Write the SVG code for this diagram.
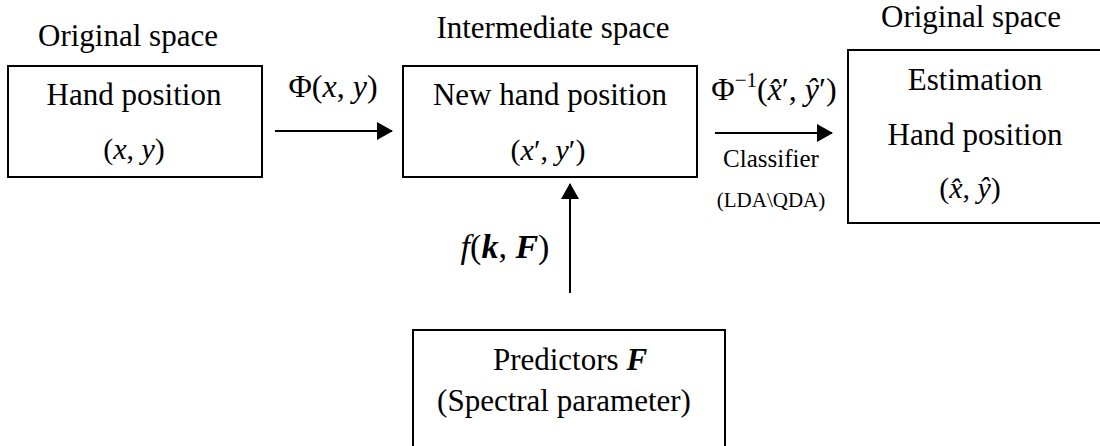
<svg xmlns="http://www.w3.org/2000/svg" width="1100" height="446" viewBox="0 0 1100 446">
<style>
.t{font-family:"Liberation Serif","Times New Roman",serif;font-size:31px;fill:#000;text-anchor:middle}
.m{font-family:"Liberation Serif","Times New Roman",serif;font-size:30px;fill:#000;text-anchor:middle}
.i{font-style:italic}
.b{font-style:italic;font-weight:bold}
.box{fill:#fff;stroke:#000;stroke-width:2}
.ln{stroke:#000;stroke-width:2;fill:none}
</style>
<defs>
<marker id="ah" markerWidth="16" markerHeight="18" refX="15" refY="9" orient="auto" markerUnits="userSpaceOnUse">
<path d="M0,0 L16,9 L0,18 Z" fill="#000"/>
</marker>
</defs>
<rect width="1100" height="446" fill="#fff"/>
<g id="node-hand">
<text class="t" x="128" y="46">Original space</text>
<rect class="box" x="8" y="66" width="254" height="111"/>
<text class="t" x="134" y="105">Hand position</text>
<text class="m" x="134" y="159">(<tspan class="i">x</tspan>, <tspan class="i">y</tspan>)</text>
</g>
<g id="node-new">
<text class="t" x="553" y="38">Intermediate space</text>
<rect class="box" x="403" y="66" width="294" height="111"/>
<text class="t" x="550" y="105">New hand position</text>
<text class="m" x="548" y="160">(<tspan class="i">x</tspan>′, <tspan class="i">y</tspan>′)</text>
</g>
<g id="node-est">
<text class="t" x="971" y="27">Original space</text>
<rect class="box" x="848" y="50" width="260" height="173"/>
<text class="t" x="975" y="90">Estimation</text>
<text class="t" x="975" y="145">Hand position</text>
<text class="m" x="970" y="198">(<tspan class="i">x̂</tspan>, <tspan class="i">ŷ</tspan>)</text>
</g>
<g id="node-pred">
<rect class="box" x="413" y="330" width="312" height="130"/>
<text class="t" x="570" y="370">Predictors <tspan class="b">F</tspan></text>
<text class="t" x="564" y="411">(Spectral parameter)</text>
</g>
<g id="connectors">
<line class="ln" x1="275" y1="131" x2="392" y2="131" marker-end="url(#ah)"/>
<line class="ln" x1="715" y1="133" x2="832" y2="133" marker-end="url(#ah)"/>
<line class="ln" x1="570" y1="293" x2="570" y2="184" marker-end="url(#ah)"/>
</g>
<g id="labels">
<text class="m" x="333" y="97" style="font-size:32px">Φ(<tspan class="i">x</tspan>, <tspan class="i">y</tspan>)</text>
<text class="m" x="774" y="100" style="font-size:32px">Φ<tspan font-size="21" dy="-13">−1</tspan><tspan dy="13">(</tspan><tspan class="i">x̂</tspan>′, <tspan class="i">ŷ</tspan>′)</text>
<text class="t" x="771" y="167" style="font-size:25px">Classifier</text>
<text class="t" x="771" y="207" style="font-size:21px">(LDA\QDA)</text>
<text class="m" x="505" y="258" style="font-size:34px"><tspan class="i">f</tspan>(<tspan class="b">k</tspan>, <tspan class="b">F</tspan>)</text>
</g>
</svg>
